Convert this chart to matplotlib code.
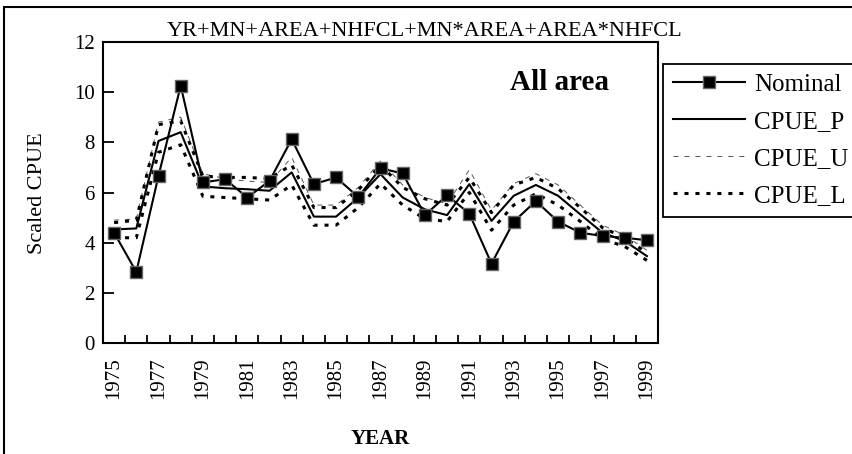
import matplotlib
matplotlib.use("Agg")
import matplotlib.pyplot as plt
from matplotlib.patches import Rectangle

plt.rcParams['font.family'] = ['Liberation Serif', 'DejaVu Serif']
plt.rcParams['lines.scale_dashes'] = False

years = list(range(1975, 2000))
nominal = [4.4, 2.84, 6.66, 10.25, 6.4, 6.53, 5.8, 6.46, 8.12, 6.33, 6.6, 5.82, 6.96,
           6.76, 5.1, 5.89, 5.16, 3.17, 4.84, 5.66, 4.84, 4.4, 4.27, 4.2, 4.1]
cpue_p = [4.53, 4.57, 8.05, 8.4, 6.24, 6.17, 6.13, 6.07, 6.8, 5.04, 5.04, 5.8, 6.73,
          5.8, 5.33, 5.1, 6.33, 4.87, 5.87, 6.3, 5.87, 5.13, 4.4, 4.07, 3.47]
cpue_u = [4.9, 4.95, 8.8, 9.0, 6.75, 6.55, 6.45, 6.4, 7.4, 5.5, 5.5, 6.2, 7.25,
          6.3, 5.8, 5.55, 6.9, 5.3, 6.35, 6.75, 6.3, 5.5, 4.7, 4.3, 3.7]
cpue_l = [4.2, 4.2, 7.6, 7.9, 5.85, 5.8, 5.75, 5.7, 6.3, 4.7, 4.7, 5.4, 6.35,
          5.5, 4.95, 4.85, 6.0, 4.5, 5.5, 5.95, 5.5, 4.85, 4.15, 3.85, 3.3]
# upper dotted band drawn in the reference without its own legend entry
cpue_band_upper = [4.8, 4.9, 8.7, 8.85, 6.65, 6.6, 6.6, 6.55, 7.1, 5.4, 5.4, 6.1, 7.1,
                   6.2, 5.75, 5.5, 6.6, 5.2, 6.3, 6.6, 6.15, 5.4, 4.6, 4.2, 3.6]
yticks = [0, 2, 4, 6, 8, 10, 12]
title = "YR+MN+AREA+NHFCL+MN*AREA+AREA*NHFCL"

W, H = 852, 454
fig = plt.figure(figsize=(W / 100, H / 100), dpi=100)
fig.patch.set_facecolor('white')
ax = fig.add_axes([103 / W, 1 - 343.3 / H, 555 / W, 301.6 / H])

x = list(range(len(years)))

ax.plot(x, cpue_u, color='#555555', lw=0.7, dashes=(3.6, 4.3), label='CPUE_U', zorder=2)
ax.plot(x, cpue_band_upper, color='black', lw=2.2, dashes=(2.9, 5.0), zorder=2)
ax.plot(x, cpue_l, color='black', lw=2.2, dashes=(2.9, 5.0), label='CPUE_L', zorder=2)
ax.plot(x, cpue_p, color='black', lw=1.5, label='CPUE_P', zorder=3)
ax.plot(x, nominal, color='black', lw=1.5, marker='s', markersize=8,
        markerfacecolor='black', markeredgecolor='#666666', markeredgewidth=1.0,
        label='Nominal', zorder=4)

ax.set_xlim(-0.5, len(years) - 0.5)
ax.set_ylim(0, 12)
ax.set_yticks(yticks)
ax.set_yticklabels([str(v) for v in yticks], fontsize=15)
ax.set_xticks([i - 0.5 for i in range(len(years) + 1)])
ax.set_xticklabels([])
ax.set_xticks(x[::2], minor=True)
ax.set_xticklabels([str(y) for y in years[::2]], minor=True, rotation=90, fontsize=15)
ax.tick_params(axis='x', which='major', direction='in', length=6, width=1.3)
ax.tick_params(axis='x', which='minor', length=0, pad=10)
ax.tick_params(axis='y', direction='in', length=8, width=1.3, pad=6)
for s in ax.spines.values():
    s.set_linewidth(1.5)
    s.set_color('black')

fig.text(37 / W, 1 - 193 / H, 'Scaled CPUE', fontsize=16, rotation=90,
         ha='center', va='center')
fig.text(380 / W, 1 - 439 / H, 'YEAR', fontsize=15, fontweight='bold',
         ha='center', va='center')

fig.text(425 / W, 1 - 31 / H, title, fontsize=16, ha='center', va='center')
fig.text(560 / W, 1 - 83 / H, 'All area', fontsize=21, fontweight='bold',
         ha='center', va='center')

handles, labels = ax.get_legend_handles_labels()
order = ['Nominal', 'CPUE_P', 'CPUE_U', 'CPUE_L']
hmap = dict(zip(labels, handles))
leg = fig.legend([hmap[k] for k in order], order, loc='upper left',
                 bbox_to_anchor=(663 / W, 1 - 64 / H), fontsize=18,
                 frameon=True, fancybox=False, edgecolor='black', framealpha=1,
                 handlelength=2.9, handletextpad=0.35, labelspacing=0.58,
                 borderpad=0.38, borderaxespad=0)
leg.get_frame().set_linewidth(1.3)

fig.add_artist(Rectangle((4 / W, -0.1), 1.2, 1.1 - 7 / H, transform=fig.transFigure,
                         fill=False, edgecolor='black', lw=1.5, clip_on=False))

fig.savefig('out.png', dpi=100)
